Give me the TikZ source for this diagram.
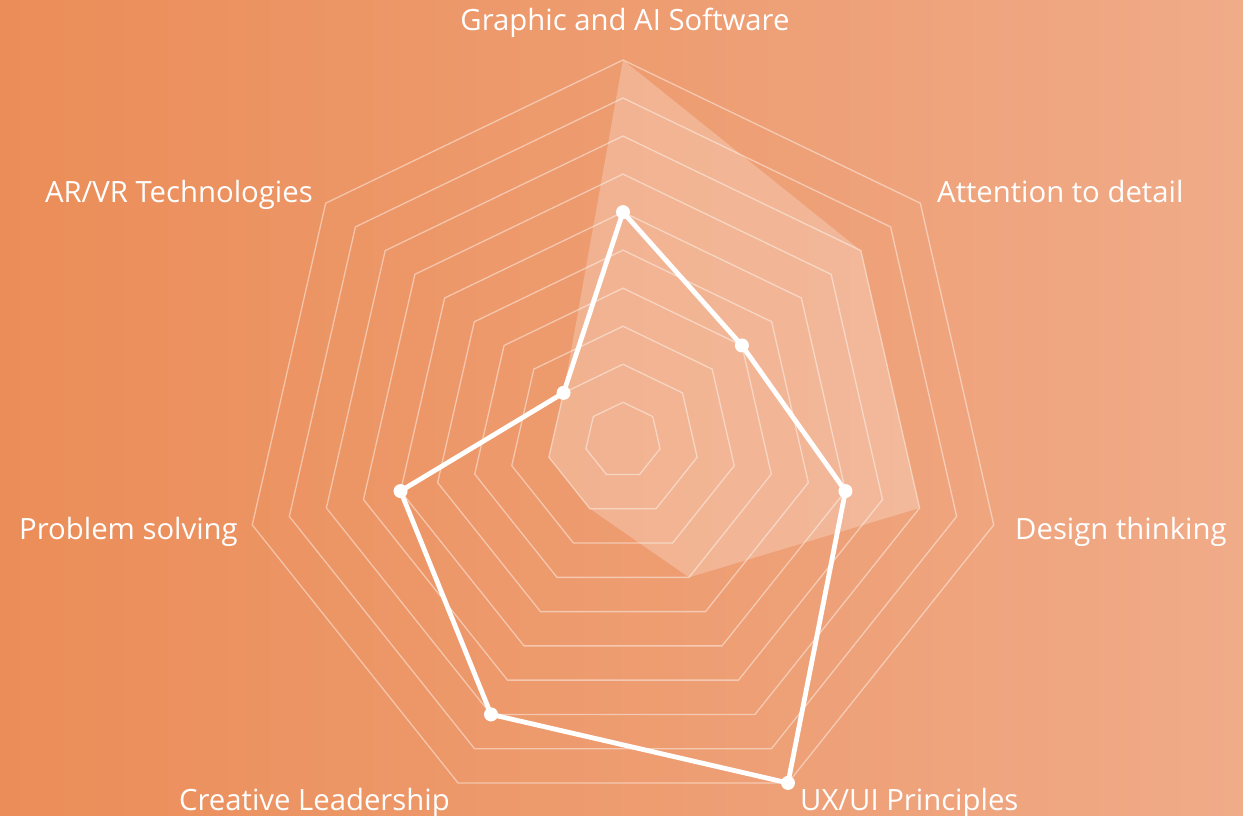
\documentclass[tikz,border=0pt]{standalone}
\usepackage{fontspec}
\setmainfont{Open Sans}
\begin{document}
\begin{tikzpicture}[x=1pt,y=-1pt,
  gridline/.style={draw=white,draw opacity=0.45,line width=1.3pt,line join=miter},
  areafill/.style={fill=white,fill opacity=0.24},
  dataline/.style={draw=white,line width=4.8pt,line join=round},
  marker/.style={circle,fill=white,inner sep=0pt,minimum size=14pt},
  lbl/.style={text=white,font=\fontsize{29.3}{34}\selectfont,inner sep=0pt}]
\useasboundingbox (0,0) rectangle (1243,816);
\shade[left color={rgb,255:red,235;green,141;blue,88},right color={rgb,255:red,240;green,171;blue,136}] (0,0) rectangle (1243,816);
\def\cx{623}\def\cy{440.3}\def\u{38.03}
% filled series
\foreach \v [count=\i from 0] in {10,8,8,4,2,2,2}{
  \coordinate (f\i) at ({\cx+\v*\u*cos(90-\i*360/7)},{\cy-\v*\u*sin(90-\i*360/7)});
}
\fill[areafill] (f0) -- (f1) -- (f2) -- (f3) -- (f4) -- (f5) -- (f6) -- cycle;
% grid
\foreach \k in {1,...,10}{
  \foreach \i in {0,...,6}{
    \coordinate (g\k-\i) at ({\cx+\k*\u*cos(90-\i*360/7)},{\cy-\k*\u*sin(90-\i*360/7)});
  }
  \draw[gridline] (g\k-0) -- (g\k-1) -- (g\k-2) -- (g\k-3) -- (g\k-4) -- (g\k-5) -- (g\k-6) -- cycle;
}
% line series
\foreach \v [count=\i from 0] in {6,4,6,10,8,6,2}{
  \coordinate (d\i) at ({\cx+\v*\u*cos(90-\i*360/7)},{\cy-\v*\u*sin(90-\i*360/7)});
}
\draw[dataline] (d0) -- (d1) -- (d2) -- (d3) -- (d4) -- (d5) -- (d6) -- cycle;
\foreach \i in {0,...,6}{ \node[marker] (m\i) at (d\i) {}; }
% labels
\node[lbl,anchor=base] (l0) at (625,31) {Graphic and AI Software};
\node[lbl,anchor=base west] (l1) at (937,202) {Attention to detail};
\node[lbl,anchor=base west] (l2) at (1015,539) {Design thinking};
\node[lbl,anchor=base west] (l3) at (800,810) {UX/UI Principles};
\node[lbl,anchor=base east] (l4) at (450,810) {Creative Leadership};
\node[lbl,anchor=base east] (l5) at (238,539) {Problem solving};
\node[lbl,anchor=base east] (l6) at (313,202) {AR/VR Technologies};
\end{tikzpicture}
\end{document}
